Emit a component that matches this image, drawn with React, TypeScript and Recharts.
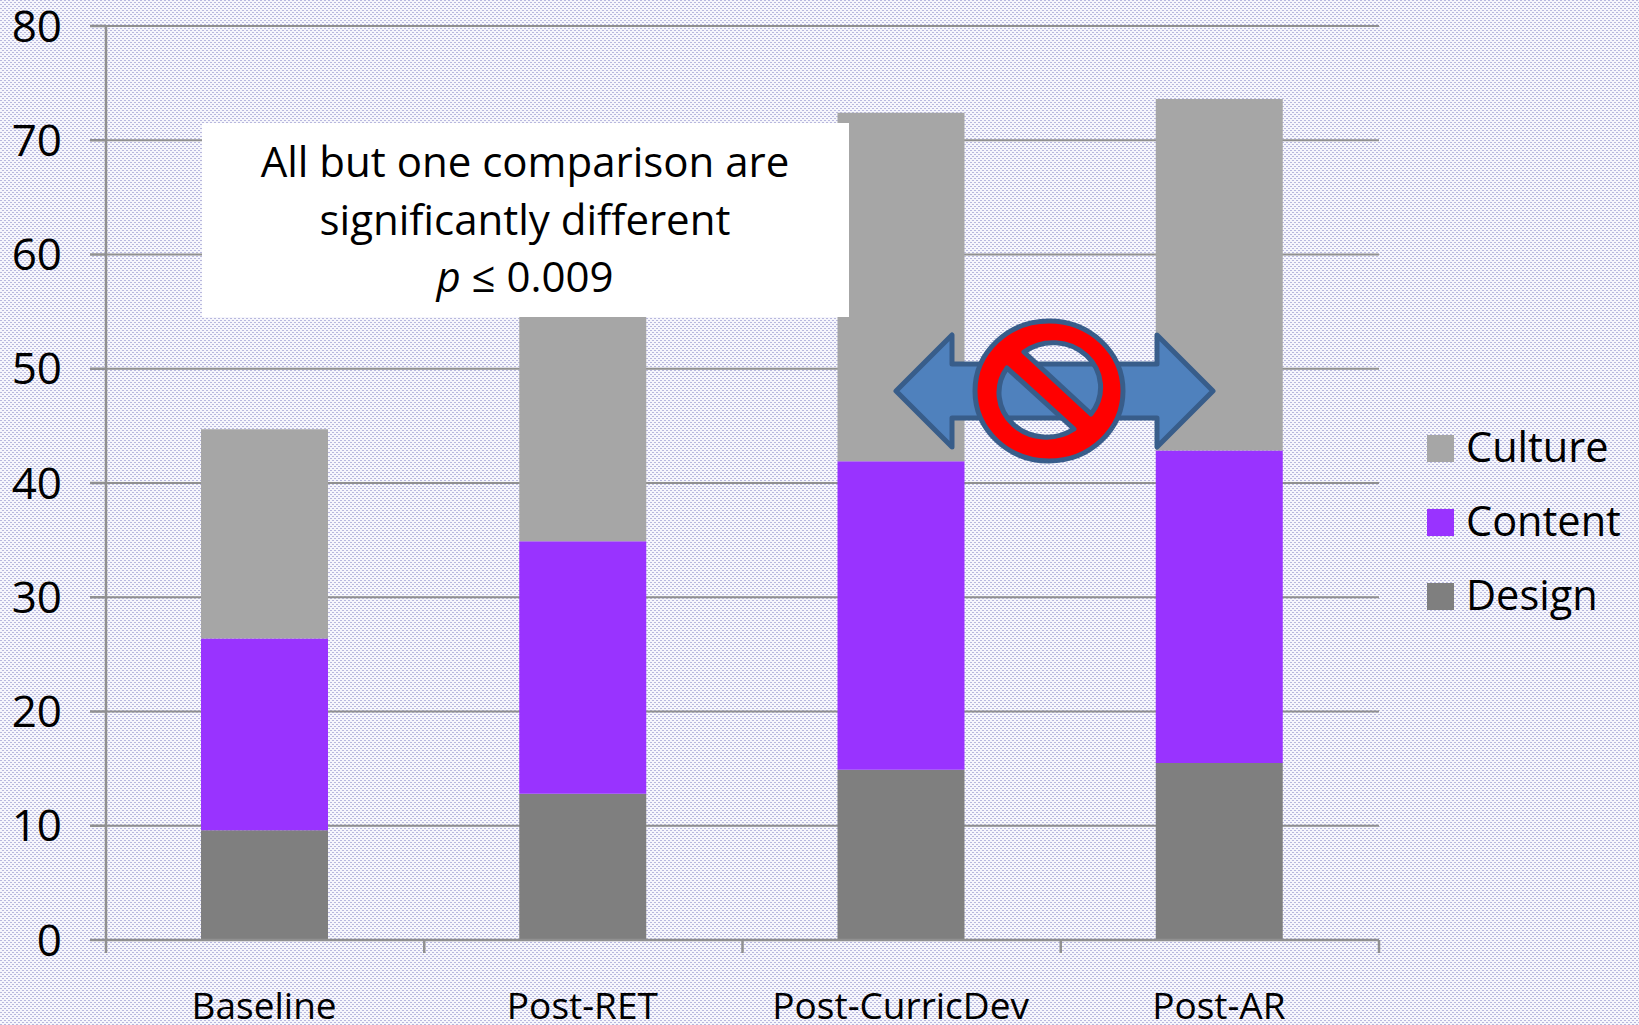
import React from 'react';
import { BarChart, Bar, XAxis, YAxis, CartesianGrid, Legend } from 'recharts';

const categories = ['Baseline', 'Post-RET', 'Post-CurricDev', 'Post-AR'];
const design = [9.6, 12.8, 14.9, 15.5];
const content = [16.8, 22.1, 27.0, 27.35];
const culture = [18.3, 24.5, 30.5, 30.75];
const yTicks = [0, 10, 20, 30, 40, 50, 60, 70, 80];

const data = categories.map((name, i) => ({
  name,
  Design: design[i],
  Content: content[i],
  Culture: culture[i],
}));

const FONT = '"Open Sans", sans-serif';
const AXIS = '#909090';
const BAND = 318.25;

const pattern =
  "url(\"data:image/svg+xml,%3Csvg xmlns='http://www.w3.org/2000/svg' width='4' height='4' shape-rendering='crispEdges'%3E%3Crect width='4' height='4' fill='%23f6f6fc'/%3E%3Crect width='2' height='1' fill='%23b8b8de'/%3E%3Crect x='2' y='2' width='2' height='1' fill='%23b8b8de'/%3E%3C/svg%3E\")";

const legendItems = ['Culture', 'Content', 'Design'];
const legendColors = ['#a6a6a6', '#9933ff', '#7f7f7f'];

// Legend is stacked top-down, reverse of the series order
const renderLegend = () => (
  <div style={{ fontFamily: FONT, fontSize: 41.5, color: '#000' }}>
    {legendItems.map((n, i) => (
      <div key={n} style={{ display: 'flex', alignItems: 'center', height: 74 }}>
        <span
          style={{
            width: 27,
            height: 27,
            background: legendColors[i],
            marginRight: 12,
            position: 'relative',
            top: 2,
          }}
        />
        {n}
      </div>
    ))}
  </div>
);

// Excel puts the category ticks between the bars, not under them
// (the +1 undoes the 1px axis padding shift, so ticks stay on the plot edges)
const CategoryTick = ({ x, y, payload, index }: any) => (
  <g>
    <line x1={x + 1 - BAND / 2} x2={x + 1 - BAND / 2} y1={y - 8} y2={y + 5} stroke={AXIS} strokeWidth={2.5} />
    {index === categories.length - 1 && (
      <line x1={x + 1 + BAND / 2} x2={x + 1 + BAND / 2} y1={y - 8} y2={y + 5} stroke={AXIS} strokeWidth={2.5} />
    )}
    <text x={x} y={y + 71} textAnchor="middle" fontFamily={FONT} fontSize={37} fill="#000">
      {payload.value}
    </text>
  </g>
);

// Annotations sit on top of the chart
const Overlay = () => (
  <svg width={1639} height={1025} style={{ position: 'absolute', left: 0, top: 0, pointerEvents: 'none' }}>
    <rect x={202} y={123} width={647} height={194} fill="#fff" />
    <text textAnchor="middle" fontFamily={FONT} fontSize={42} fill="#000">
      <tspan x={525} y={177}>All but one comparison are</tspan>
      <tspan x={525} y={235}>significantly different</tspan>
      <tspan x={525} y={292}><tspan fontStyle="italic">p</tspan> ≤ 0.009</tspan>
    </text>
    <path
      d="M896 391 L952 335 L952 364 L1157 364 L1157 335 L1213 391 L1157 447 L1157 418 L952 418 L952 447 Z"
      fill="#4f81bd"
      stroke="#385d8a"
      strokeWidth={5}
      strokeLinejoin="round"
    />
    <path
      fillRule="evenodd"
      d="M975 391 A74 70 0 1 1 1123 391 A74 70 0 1 1 975 391 Z
         M1024 352 A47.5 44.5 0 0 1 1091 414 Z
         M1074 429 A47.5 44.5 0 0 1 1007 368 Z"
      fill="#ff0000"
      stroke="#385d8a"
      strokeWidth={5}
      strokeLinejoin="round"
    />
  </svg>
);

export default function App() {
  return (
    <div
      style={{
        position: 'absolute',
        left: 0,
        top: 0,
        width: 1639,
        height: 1025,
        overflow: 'hidden',
        backgroundImage: pattern,
      }}
    >
      <BarChart
        width={1639}
        height={1025}
        data={data}
        barSize={127}
        margin={{ top: 26, right: 48, left: 0, bottom: 0 }}
      >
        <CartesianGrid vertical={false} stroke={AXIS} strokeWidth={2} />
        <XAxis
          dataKey="name"
          stroke={AXIS}
          strokeWidth={2.5}
          tickLine={false}
          height={85}
          interval={0}
          padding={{ left: -1, right: 1 }}
          tick={<CategoryTick />}
        />
        <YAxis
          domain={[0, 80]}
          ticks={yTicks}
          width={106}
          stroke={AXIS}
          strokeWidth={2.5}
          tickSize={16}
          tickMargin={28}
          interval={0}
          tick={{ fontFamily: FONT, fontSize: 44, fill: '#000' }}
        />
        <Legend
          layout="vertical"
          align="right"
          verticalAlign="top"
          content={renderLegend}
          wrapperStyle={{ left: 1427, top: 409, width: 212 }}
        />
        <Bar dataKey="Design" stackId="a" fill="#7f7f7f" isAnimationActive={false} />
        <Bar dataKey="Content" stackId="a" fill="#9933ff" isAnimationActive={false} />
        <Bar dataKey="Culture" stackId="a" fill="#a6a6a6" isAnimationActive={false} />
      </BarChart>
      <Overlay />
    </div>
  );
}
